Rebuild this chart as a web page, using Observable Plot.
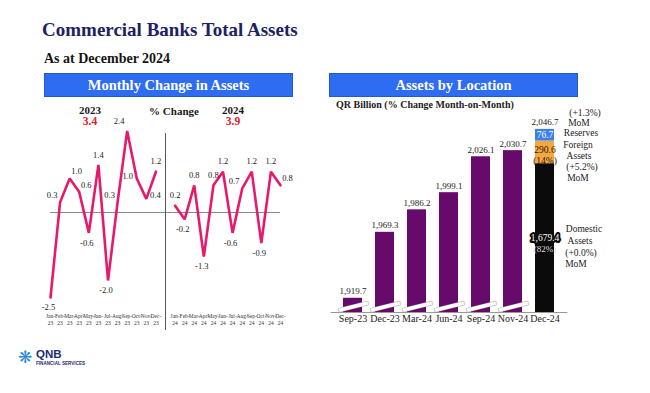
<!DOCTYPE html>
<html><head><meta charset="utf-8">
<script src="https://cdn.jsdelivr.net/npm/d3@7"></script>
<script src="https://cdn.jsdelivr.net/npm/@observablehq/plot@0.6"></script>
<style>
body{margin:0;background:#fff;}
#wrap{position:relative;width:650px;height:393px;overflow:hidden;font-family:"Liberation Serif",serif;color:#1a1a1a;}
.abs{position:absolute;white-space:nowrap;line-height:1;}
.c{transform:translate(-50%,-50%);}
.hdr{position:absolute;height:24px;background:#2e6cf2;border:1px solid #2459cc;color:#fff;font-size:14.5px;font-weight:bold;text-align:center;line-height:22px;box-sizing:border-box;}
.plot{position:absolute;}
</style></head>
<body><div id="wrap"></div>
<script>
// ---------- data ----------
const months = ["Jan","Feb","Mar","Apr","May","Jun","Jul","Aug","Sep","Oct","Nov","Dec"];
const yearLabels = ["2023","2024"];
const yearShort = ["23","24"];
const annualChange = [3.4, 3.9];
const chg2023 = [-2.5, 0.3, 1.0, 0.6, -0.6, 1.4, -2.0, 0.3, 2.4, 1.0, 0.4, 1.2];
const chg2024 = [0.2, -0.2, 0.8, -1.3, 0.8, 1.2, -0.6, 0.7, 1.2, -0.9, 1.2, 0.8];

const periods = ["Sep-23","Dec-23","Mar-24","Jun-24","Sep-24","Nov-24","Dec-24"];
const totalAssets = [1919.7, 1969.3, 1986.2, 1999.1, 2026.1, 2030.7, 2046.7];
const decComponents = ["Domestic Assets","Foreign Assets","Reserves"];
const decValues = [1679.4, 290.6, 76.7];
const decShares = ["82%","14%",""];
const decMoM = ["+0.0%","+5.2%","+1.3%"];

// ---------- page text ----------
const wrap = document.getElementById("wrap");
function addText(txt, x, y, style, centered=true){
  const d = document.createElement("div");
  d.className = "abs" + (centered ? " c" : "");
  d.style.left = x + "px"; d.style.top = y + "px";
  d.style.cssText += style || "";
  d.textContent = txt;
  wrap.appendChild(d);
  return d;
}
addText("Commercial Banks Total Assets", 42, 20, "font-size:19px;font-weight:bold;color:#1c2263;", false);
addText("As at December 2024", 44, 52, "font-size:14px;font-weight:bold;color:#151515;", false);
const h1 = document.createElement("div"); h1.className="hdr";
h1.style.cssText += "left:44px;top:73px;width:249px;"; h1.textContent = "Monthly Change in Assets"; wrap.appendChild(h1);
const h2 = document.createElement("div"); h2.className="hdr";
h2.style.cssText += "left:329px;top:73px;width:249px;"; h2.textContent = "Assets by Location"; wrap.appendChild(h2);
addText("QR Billion (% Change Month-on-Month)", 336, 100, "font-size:10px;font-weight:bold;color:#222;", false);

addText(yearLabels[0], 90, 110, "font-size:11px;font-weight:bold;");
addText(annualChange[0].toFixed(1), 90, 122, "font-size:11.5px;font-weight:bold;color:#e0202c;");
addText("% Change", 174, 111, "font-size:11px;font-weight:bold;");
addText(yearLabels[1], 233, 110, "font-size:11px;font-weight:bold;");
addText(annualChange[1].toFixed(1), 233, 122, "font-size:11.5px;font-weight:bold;color:#e0202c;");

// right-side annotations for Dec-24 components
const ann = [
  ["(" + decMoM[2] + ")", 585, 114], ["MoM", 579, 124], [decComponents[2], 581, 134],
  [decComponents[1].split(" ")[0], 578, 146], [decComponents[1].split(" ")[1], 579, 157], ["(" + decMoM[1] + ")", 582, 168], ["MoM", 578, 179],
  [decComponents[0].split(" ")[0], 584, 230], [decComponents[0].split(" ")[1], 580, 242], ["(" + decMoM[0] + ")", 581, 254], ["MoM", 576, 265]
];
ann.forEach(([t,x,y]) => addText(t, x, y, "font-size:9.5px;color:#222;"));

// logo
addText("❋", 25, 357, "font-size:17px;color:#2a8ad8;font-family:'DejaVu Sans';");
addText("QNB", 36, 349, "font-size:11.5px;font-weight:bold;color:#1e2d70;font-family:'Liberation Sans';", false);
addText("FINANCIAL SERVICES", 36, 361.5, "font-size:4.6px;font-weight:bold;color:#1e2d70;font-family:'Liberation Sans';", false);

// ---------- left chart: monthly change ----------
const rows = [
  ...chg2023.map((v, m) => ({i: m, v, yr: 0, m})),
  ...chg2024.map((v, m) => ({i: 13 + m, v, yr: 1, m}))
];
const place = ["b","al","ar","ar","b","a","b","al","al2","l","r","a",
               "a","b","a","b","a","a","b","al","a","b","a","ar"];
rows.forEach((d, k) => d.p = place[k]);
const offsets = {a:[0,-10], b:[-2,10], al:[-8,-7], al2:[-8,-10], ar:[7,-7], l:[-9,-2], r:[9,-4]};
const pink = "#e8196b";
const serif = "Liberation Serif";

const left = Plot.plot({
  width: 260, height: 235,
  marginLeft: 10, marginRight: 20, marginTop: 30.4, marginBottom: 38,
  style: {fontFamily: serif, background: "transparent", overflow: "visible"},
  x: {domain: [0, 24]},
  y: {domain: [-2.5, 2.4], axis: null},
  marks: [
    Plot.ruleY([0], {stroke: "#8a8a8a", strokeWidth: 1}),
    Plot.ruleX([12], {y1: -3.47, y2: 2.32, stroke: "#555", strokeWidth: 1}),
    Plot.line(rows, {x: "i", y: "v", z: "yr", stroke: pink, strokeWidth: 2.6, strokeLinejoin: "miter"}),
    ...Object.entries(offsets).map(([k, [dx, dy]]) =>
      Plot.text(rows.filter(d => d.p === k), {x: "i", y: "v", text: d => d.v.toFixed(1), dx, dy, fontSize: 8.5, fill: "#222"})),
    Plot.axisX(rows.map(d => d.i), {
      tickFormat: i => { const r = rows.find(d => d.i === i); return months[r.m] + "-\n" + yearShort[r.yr]; },
      tickSize: 0, tickPadding: 16, fontSize: 5.5, lineHeight: 1.25, fill: "#333", label: null
    })
  ]
});
left.classList.add("plot");
left.style.left = "40px"; left.style.top = "100px";
wrap.appendChild(left);

// ---------- right chart: assets by location ----------
const yMin = 1909;           // start of the broken value axis
const bars = periods.map((p, i) => ({p, t: totalAssets[i]}));
const hist = bars.slice(0, 6);
const last = bars[6];
// Dec-24 components are drawn compressed (square-root heights) on the broken axis, as in the source
const hRes = Math.sqrt(decValues[2]), hFor = Math.sqrt(decValues[1]);
const segDom = [{p: last.p, y1: yMin, y2: last.t - hRes - hFor}];
const segFor = [{p: last.p, y1: last.t - hRes - hFor, y2: last.t - hRes}];
const segRes = [{p: last.p, y1: last.t - hRes, y2: last.t}];
const fmt = d3.format(",.1f");

const right = Plot.plot({
  width: 300, height: 235,
  marginLeft: 10.6, marginRight: 52.6, marginTop: 24.5, marginBottom: 23,
  style: {fontFamily: serif, background: "transparent", overflow: "visible"},
  x: {domain: periods, padding: 0.4},
  y: {domain: [yMin, 2050], axis: null},
  marks: [
    Plot.barY(hist, {x: "p", y1: yMin, y2: "t", fill: "#680a6b"}),
    Plot.barY(segDom, {x: "p", y1: "y1", y2: "y2", fill: "#0b0b0b"}),
    Plot.barY(segFor, {x: "p", y1: "y1", y2: "y2", fill: "#f4a842"}),
    Plot.barY(segRes, {x: "p", y1: "y1", y2: "y2", fill: "#3d80ec"}),
    // axis-break marks
    Plot.text(hist, {x: "p", y: yMin + 5.5, text: () => "—", fontSize: 32, rotate: -14, fill: "#aaa", stroke: "#aaa", strokeWidth: 2.2, fontFamily: "DejaVu Sans"}),
    Plot.text(hist, {x: "p", y: yMin + 5.5, text: () => "—", fontSize: 32, rotate: -14, fill: "white", stroke: "white", strokeWidth: 0.9, fontFamily: "DejaVu Sans"}),
    Plot.ruleY([yMin], {stroke: "#999"}),
    Plot.text(bars, {x: "p", y: "t", text: d => fmt(d.t), dy: -7, fontSize: 9, fill: "#222"}),
    Plot.text(segRes, {x: "p", y: d => (d.y1 + d.y2) / 2, text: () => String(decValues[2]), fontSize: 9.5, fill: "white"}),
    Plot.text(segFor, {x: "p", y: d => (d.y1 + d.y2) / 2, text: () => decValues[1].toFixed(1) + "\n(" + decShares[1] + ")", dy: 3, fontSize: 9.5, lineHeight: 1.15, fill: "#2a1a05"}),
    Plot.text(segDom, {x: "p", y: d => (d.y1 + d.y2) / 2, text: () => fmt(decValues[0]), dy: 0, fontSize: 9.5, fill: "white", stroke: "#0b0b0b", strokeWidth: 4}),
    Plot.text(segDom, {x: "p", y: d => (d.y1 + d.y2) / 2, text: () => "(" + decShares[0] + ")", dy: 11, fontSize: 9, fill: "#ddd"}),
    Plot.axisX({tickSize: 0, tickPadding: 2, fontSize: 10, fill: "#222", label: null})
  ]
});
right.classList.add("plot");
right.style.left = "320px"; right.style.top = "100px";
wrap.appendChild(right);
</script>
</body></html>
